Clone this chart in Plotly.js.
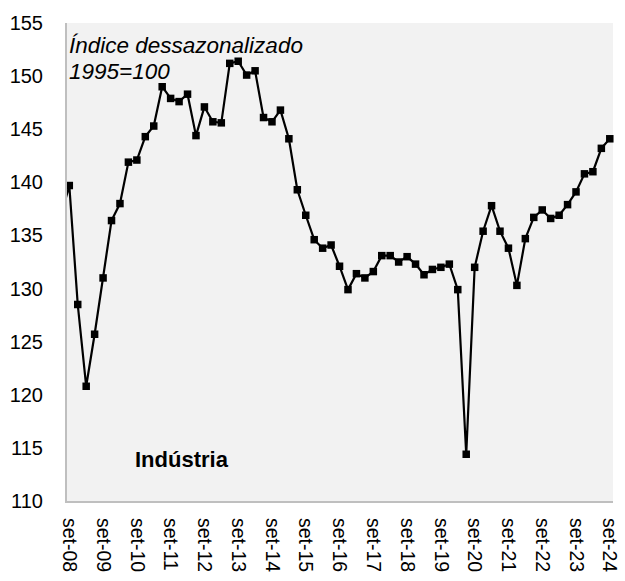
<!DOCTYPE html>
<html>
<head>
<meta charset="utf-8">
<script src="https://cdn.plot.ly/plotly-3.0.1.min.js"></script>
<style>
html,body{margin:0;padding:0;background:#fff;}
#chart{width:625px;height:581px;}
</style>
</head>
<body>
<div id="chart"></div>
<script>
// Quarterly categories (mar, jun, set, dez)
var quarters = [
  "jun-08","set-08","dez-08",
  "mar-09","jun-09","set-09","dez-09",
  "mar-10","jun-10","set-10","dez-10",
  "mar-11","jun-11","set-11","dez-11",
  "mar-12","jun-12","set-12","dez-12",
  "mar-13","jun-13","set-13","dez-13",
  "mar-14","jun-14","set-14","dez-14",
  "mar-15","jun-15","set-15","dez-15",
  "mar-16","jun-16","set-16","dez-16",
  "mar-17","jun-17","set-17","dez-17",
  "mar-18","jun-18","set-18","dez-18",
  "mar-19","jun-19","set-19","dez-19",
  "mar-20","jun-20","set-20","dez-20",
  "mar-21","jun-21","set-21","dez-21",
  "mar-22","jun-22","set-22","dez-22",
  "mar-23","jun-23","set-23","dez-23",
  "mar-24","jun-24","set-24"
];

// Seasonally adjusted industry index (1995=100)
var industria = [
  136.8,139.7,128.5,
  120.8,125.7,131.0,136.4,
  138.0,141.9,142.1,144.3,
  145.3,149.0,147.9,147.6,
  148.3,144.4,147.1,145.7,
  145.6,151.2,151.4,150.1,
  150.5,146.1,145.7,146.8,
  144.1,139.3,136.9,134.6,
  133.8,134.1,132.1,129.9,
  131.4,131.0,131.6,133.1,
  133.1,132.5,133.0,132.3,
  131.3,131.8,132.0,132.3,
  129.9,114.4,132.0,135.4,
  137.8,135.4,133.8,130.3,
  134.7,136.7,137.4,136.6,
  136.9,137.9,139.1,140.8,
  141.0,143.2,144.1
];

// Tick labels shown on the x axis
var xTicks = ["set-08","set-09","set-10","set-11","set-12","set-13","set-14","set-15",
              "set-16","set-17","set-18","set-19","set-20","set-21","set-22","set-23","set-24"];
var yTicks = [110,115,120,125,130,135,140,145,150,155];

var FONT = "Liberation Sans, Arial, sans-serif";

var trace = {
  x: quarters,
  y: industria,
  type: "scatter",
  mode: "lines+markers",
  line: {color: "#000000", width: 2.2},
  marker: {symbol: "square", size: 7.5, color: "#000000"},
  cliponaxis: false,
  hoverinfo: "x+y"
};

var layout = {
  width: 625,
  height: 581,
  margin: {l: 67, r: 12, t: 23, b: 80},
  paper_bgcolor: "#ffffff",
  plot_bgcolor: "#f2f2f2",
  showlegend: false,
  font: {family: FONT, color: "#000000", size: 20},
  xaxis: {
    type: "category",
    range: [0.728, 65.38],
    tickmode: "array",
    tickvals: xTicks,
    ticktext: xTicks,
    tickangle: 90,
    tickfont: {family: FONT, size: 19.5, color: "#000000"},
    showgrid: false,
    zeroline: false,
    showline: true,
    linecolor: "#bfbfbf",
    linewidth: 2,
    ticks: "",
    ticklabelstandoff: 11
  },
  yaxis: {
    range: [110, 155],
    tickmode: "array",
    tickvals: yTicks,
    ticktext: yTicks.map(String),
    tickfont: {family: FONT, size: 20, color: "#000000"},
    showgrid: false,
    zeroline: false,
    showline: true,
    linecolor: "#bfbfbf",
    linewidth: 2,
    ticks: "",
    ticklabelstandoff: 18
  },
  annotations: [
    {
      xref: "paper", yref: "y",
      x: 0.0, y: 152.85,
      xanchor: "left", yanchor: "middle",
      text: "<i>Índice dessazonalizado</i>",
      showarrow: false,
      font: {family: FONT, size: 22.5, color: "#000000"}
    },
    {
      xref: "paper", yref: "y",
      x: 0.0, y: 150.45,
      xanchor: "left", yanchor: "middle",
      text: "<i>1995=100</i>",
      showarrow: false,
      font: {family: FONT, size: 22.5, color: "#000000"}
    },
    {
      xref: "paper", yref: "y",
      x: 0.2115, y: 113.9,
      xanchor: "center", yanchor: "middle",
      text: "<b>Indústria</b>",
      showarrow: false,
      font: {family: FONT, size: 22, color: "#000000"}
    }
  ]
};

Plotly.newPlot("chart", [trace], layout, {displayModeBar: false, staticPlot: true});
</script>
</body>
</html>
